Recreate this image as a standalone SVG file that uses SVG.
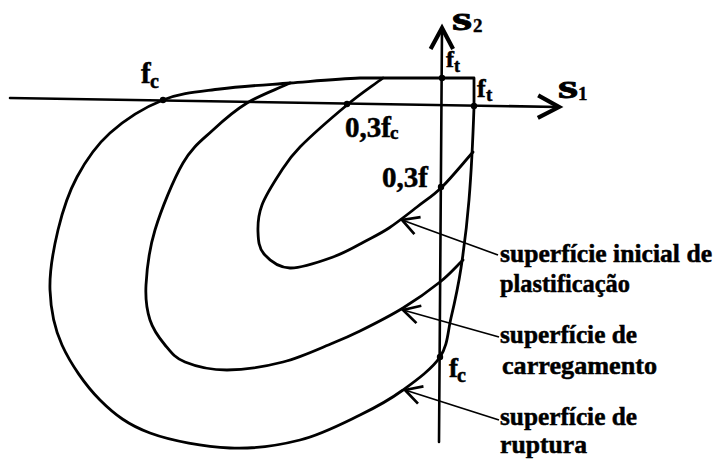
<svg xmlns="http://www.w3.org/2000/svg" width="718" height="459" viewBox="0 0 718 459">
<style>
.curve{fill:none;stroke:#000;stroke-width:2.8;stroke-linejoin:round;stroke-linecap:round}
.axis{fill:none;stroke:#000;stroke-width:2.6;stroke-linecap:round}
.lead{fill:none;stroke:#000;stroke-width:1.8}
.dot{fill:#000}
.lbl{font-size:26px}
</style>
<defs>
<marker id="axhead" markerUnits="userSpaceOnUse" markerWidth="30" markerHeight="30" viewBox="-16 -10 20 20" refX="0" refY="0" orient="auto" overflow="visible">
<path d="M-14,-7.5 L0,0 L-14,7.5" fill="none" stroke="#000" stroke-width="2.8" stroke-linejoin="miter"/>
</marker>
<marker id="leadhead" markerUnits="userSpaceOnUse" markerWidth="30" markerHeight="30" viewBox="-2 -10 20 20" refX="0" refY="0" orient="auto" overflow="visible">
<path d="M11,-6 L0,0 L11,6" fill="none" stroke="#000" stroke-width="1.8"/>
</marker>
</defs>
<rect width="718" height="459" fill="#fff"/>

<g font-family="'Liberation Serif', 'Times New Roman', 'DejaVu Serif', serif" font-weight="bold" fill="#000">
<g id="axis-s1">
<line class="axis" x1="10" y1="98" x2="559" y2="107" marker-end="url(#axhead)"/>
<text x="558" y="98" font-size="33" textLength="20" lengthAdjust="spacingAndGlyphs" stroke="#000" stroke-width="0.8">s</text>
<text x="578" y="100" font-size="19" stroke="#000" stroke-width="0.4">1</text>
</g>
<g id="axis-s2">
<line class="axis" x1="439" y1="442" x2="442" y2="28" marker-end="url(#axhead)"/>
<text x="452" y="30" font-size="33" textLength="20" lengthAdjust="spacingAndGlyphs" stroke="#000" stroke-width="0.8">s</text>
<text x="473" y="32" font-size="19" stroke="#000" stroke-width="0.4">2</text>
</g>

<g id="surface-rupture">
<path class="curve" d="M360,78 C338.3,78.8 313.3,81.2 290,83 C266.7,84.8 241.2,86.2 220,89 C198.8,91.8 181.3,92.7 163,100 C144.7,107.3 124.3,120.2 110,133 C95.7,145.8 85.7,160.8 77,177 C68.3,193.2 62.5,211.2 58,230 C53.5,248.8 49.3,270.8 50,290 C50.7,309.2 53.7,326.7 62,345 C70.3,363.3 85.3,385.3 100,400 C114.7,414.7 128.3,425 150,433 C171.7,441 205,446.8 230,448 C255,449.2 278.3,445.5 300,440 C321.7,434.5 342.8,423.3 360,415 C377.2,406.7 389.7,399.7 403,390 C416.3,380.3 432,369 440,357 C448,345 447.5,332.8 451,318 C454.5,303.2 458,287.7 461,268 C464,248.3 466.8,226.8 469,200 C471.2,173.2 473.2,130.3 474,107 L474,78 Z"/>
</g>
<g id="surface-loading">
<path class="curve" d="M290,83 C275.7,89.7 259.8,95.2 247,103 C234.2,110.8 223.7,120 213,130 C202.3,140 192.7,146.3 183,163 C173.3,179.7 161.2,209.7 155,230 C148.8,250.3 146.8,270 146,285 C145.2,300 146.8,310 150,320 C153.2,330 159.2,338 165,345 C170.8,352 174.7,357.8 185,362 C195.3,366.2 210.7,370 227,370 C243.3,370 265.3,366.5 283,362 C300.7,357.5 320.2,348.2 333,343 C345.8,337.8 348.3,336.8 360,331 C371.7,325.2 389.7,316.2 403,308 C416.3,299.8 430,290 440,282 C450,274 455.3,267.3 463,260"/>
</g>
<g id="surface-initial">
<path class="curve" d="M383,78 C371,87 360.8,93.5 347,105 C333.2,116.5 311.2,135.7 300,147 C288.8,158.3 286.3,163.3 280,173 C273.7,182.7 265.7,195.2 262,205 C258.3,214.8 257.7,223.8 258,232 C258.3,240.2 258.7,248 264,254 C269.3,260 278.5,267.5 290,268 C301.5,268.5 321.3,261.2 333,257 C344.7,252.8 353,248 362,243 C371,238 380,234 389,228 C398,222 408,214 417,207 C426.2,199.8 432.7,196.2 442,187 C451.3,177.8 462.7,163.7 473,152"/>
</g>

<g id="points">
<circle class="dot" cx="163" cy="100" r="3.2"/>
<circle class="dot" cx="347" cy="104" r="3.2"/>
<circle class="dot" cx="442" cy="78" r="3.2"/>
<circle class="dot" cx="474" cy="106" r="3.2"/>
<circle class="dot" cx="441" cy="187" r="3.2"/>
<circle class="dot" cx="440" cy="357" r="3.2"/>
</g>

<g id="point-labels" stroke="#000" stroke-width="0.5">
<text x="141" y="83" font-size="29">f</text><text x="150" y="88" font-size="20">c</text>
<text x="345" y="137" font-size="29">0,3f</text><text x="390" y="139" font-size="19">c</text>
<text x="446" y="67" font-size="24">f</text><text x="454" y="72" font-size="18">t</text>
<text x="477" y="97" font-size="26">f</text><text x="486" y="101" font-size="19">t</text>
<text x="382" y="187" font-size="29">0,3f</text>
<text x="449" y="377" font-size="27">f</text><text x="457" y="382" font-size="20">c</text>
</g>

<g stroke="#000" stroke-width="0.5">
<g id="note-initial">
<text class="lbl" x="500" y="262" textLength="212" lengthAdjust="spacingAndGlyphs">superfície inicial de</text>
<text class="lbl" x="500" y="292" textLength="130" lengthAdjust="spacingAndGlyphs">plastificação</text>
</g>
<g id="note-loading">
<text class="lbl" x="500" y="343" textLength="137" lengthAdjust="spacingAndGlyphs">superfície de</text>
<text class="lbl" x="502" y="374" textLength="155" lengthAdjust="spacingAndGlyphs">carregamento</text>
</g>
<g id="note-rupture">
<text class="lbl" x="500" y="425" textLength="137" lengthAdjust="spacingAndGlyphs">superfície de</text>
<text class="lbl" x="500" y="453" textLength="87" lengthAdjust="spacingAndGlyphs">ruptura</text>
</g>
</g>
</g>

<g id="connectors">
<line class="lead" x1="402" y1="220" x2="498" y2="255" marker-start="url(#leadhead)"/>
<line class="lead" x1="403" y1="310" x2="499" y2="337" marker-start="url(#leadhead)"/>
<line class="lead" x1="405" y1="390" x2="499" y2="420" marker-start="url(#leadhead)"/>
</g>
</svg>
